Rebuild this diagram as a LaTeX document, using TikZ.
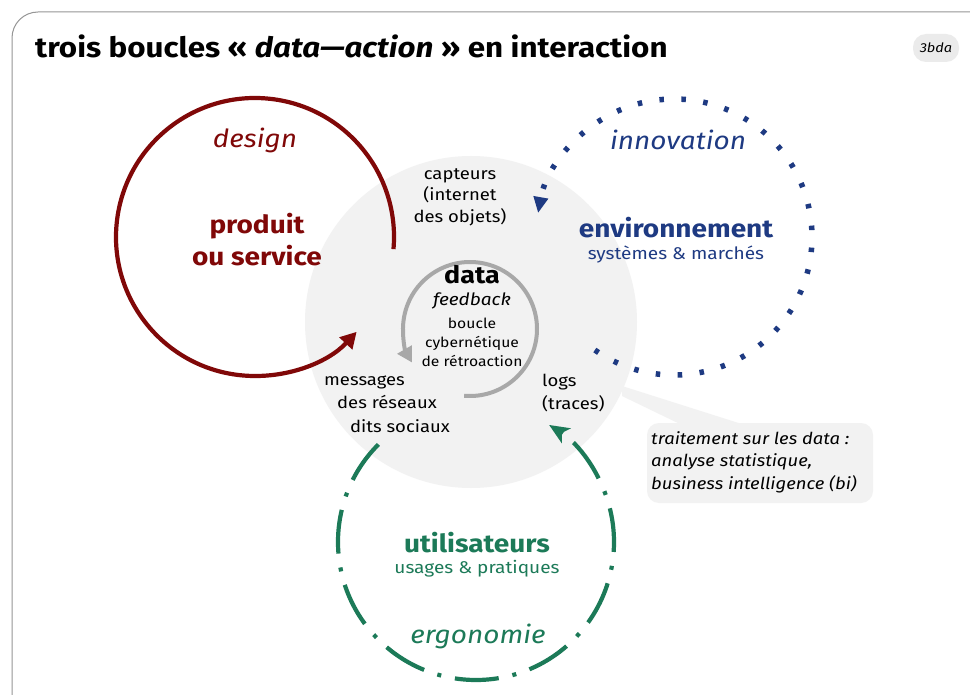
\documentclass[tikz,border=0pt]{standalone}
\usepackage{fontspec}
\setmainfont{Fira Sans}[FakeStretch=1.12]
\usetikzlibrary{arrows.meta}
\definecolor{rouge}{RGB}{128,8,8}
\definecolor{bleu}{RGB}{30,58,130}
\definecolor{vert}{RGB}{28,122,88}
\definecolor{grisfond}{RGB}{242,242,242}
\definecolor{grisarc}{RGB}{168,168,168}
\definecolor{cadre}{RGB}{150,150,150}
\begin{document}
\begin{tikzpicture}[x=1pt,y=-1pt,
  txt/.style={inner sep=0pt, align=center},
  redloop/.style={draw=rouge, line width=4.2pt, -{Triangle[length=16pt,width=17pt]}},
  blueloop/.style={draw=bleu, line width=5.5pt, dash pattern=on 4.5pt off 17.5pt, -{Triangle[length=16pt,width=14pt]}},
  greenloop/.style={draw=vert, line width=4.2pt, dash pattern=on 44pt off 14pt on 4pt off 14pt, -{Stealth[length=20pt,width=17pt,inset=5pt]}},
  grayloop/.style={draw=grisarc, line width=4pt, -{Triangle[length=15pt,width=16pt]}},
]
\useasboundingbox (0,0) rectangle (970,695);
\clip (0,0) rectangle (970,695);
\fill[white] (0,0) rectangle (970,695);
\draw[cadre, line width=1pt, rounded corners=26pt] (12,12) rectangle (1010,740);

% title
\node[anchor=base west, inner sep=0pt, font=\fontsize{28}{32}\selectfont\bfseries] (titre) at (35,58)
  {trois boucles « \textit{data—action} » en interaction};
\node[fill=black!8, rounded corners=13pt, minimum width=46pt, minimum height=28pt, inner sep=0pt,
  font=\fontsize{13}{15}\selectfont\itshape] (badge) at (936,48) {3bda};

% central gray disc
\coordinate (cdata) at (471,322);
\fill[grisfond] (cdata) circle[radius=166];
% callout
\fill[grisfond] (622,386) -- (748,426) -- (684,426) -- (622,396) -- cycle;
\fill[grisfond, rounded corners=12pt] (647,423) rectangle (873,503);

% loops
\draw[redloop] (255,237) ++(5:139) arc[start angle=5, end angle=-317, radius=139];
\draw[blueloop] (674,237) ++(125:138) arc[start angle=125, end angle=-170, radius=138];
\draw[greenloop] (476,542) ++(225:138) arc[start angle=225, end angle=-58, radius=138];
\draw[grayloop] (470,329) ++(95:67) arc[start angle=95, end angle=-210, radius=67];

% red texts
\node[txt, text=rouge, font=\fontsize{25}{30}\selectfont\itshape] (design) at (255,140) {design};
\node[txt, text=rouge, font=\fontsize{25}{32}\selectfont\bfseries] (produit) at (257,240) {produit\\ou service};

% blue texts
\node[txt, text=bleu, font=\fontsize{25}{30}\selectfont\itshape] (innov) at (678,140) {innovation};
\node[txt, text=bleu, font=\fontsize{25}{30}\selectfont\bfseries] (envir) at (676,228) {environnement};
\node[txt, text=bleu, font=\fontsize{17}{20}\selectfont] (sysm) at (676,255) {systèmes \& marchés};

% green texts
\node[txt, text=vert, font=\fontsize{25}{30}\selectfont\bfseries] (util) at (477,543) {utilisateurs};
\node[txt, text=vert, font=\fontsize{17}{20}\selectfont] (usages) at (477,569) {usages \& pratiques};
\node[txt, text=vert, font=\fontsize{25}{30}\selectfont\itshape] (ergo) at (478,636) {ergonomie};

% central texts
\node[txt, font=\fontsize{16.5}{21.5}\selectfont] (capteurs) at (460,197) {capteurs\\(internet\\des objets)};
\node[txt, font=\fontsize{24}{28}\selectfont\bfseries] (data) at (472,275) {data};
\node[txt, font=\fontsize{17}{20}\selectfont\itshape] (feedback) at (472,301) {feedback};
\node[txt, font=\fontsize{14}{19}\selectfont] (boucle) at (472,342) {boucle\\cybernétique\\de rétroaction};
\node[txt, align=left, font=\fontsize{16.5}{23.5}\selectfont] (messages) at (387,404)
  {messages\\\hspace*{13pt}des réseaux\\\hspace*{26pt}dits sociaux};
\node[txt, align=left, anchor=west, font=\fontsize{16.5}{23}\selectfont] (logs) at (542,393) {logs\\(traces)};

% callout text
\node[txt, align=left, anchor=west, font=\fontsize{16.5}{22.5}\selectfont\itshape] (traitement) at (651,462)
  {traitement sur les data :\\analyse statistique,\\business intelligence (bi)};
\end{tikzpicture}
\end{document}
